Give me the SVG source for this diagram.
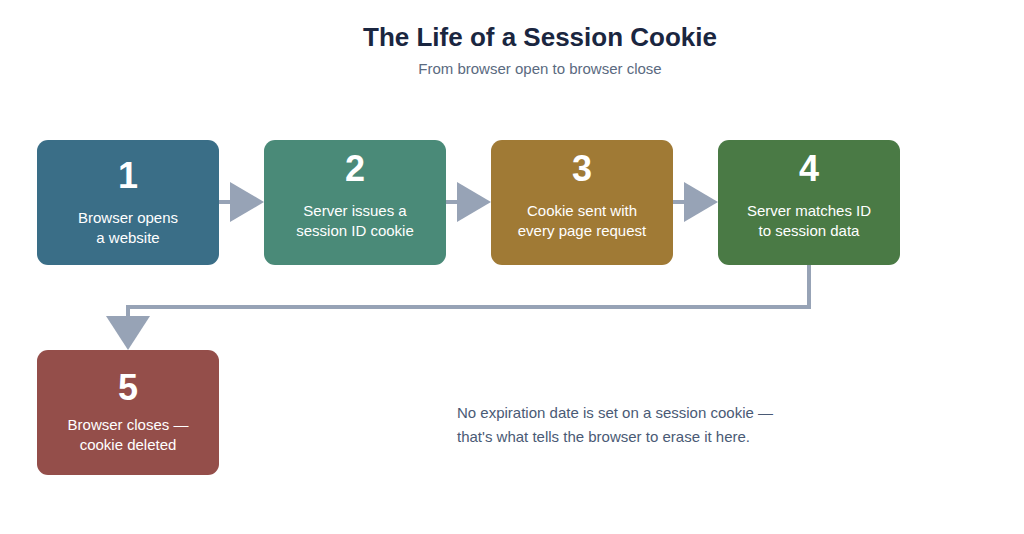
<svg xmlns="http://www.w3.org/2000/svg" width="1024" height="534" viewBox="0 0 1024 534">
<style>
text{font-family:"Liberation Sans",Arial,sans-serif}
.num{font-size:36px;font-weight:bold;fill:#fff;text-anchor:middle}
.lbl{font-size:15px;fill:#fff;text-anchor:middle}
.conn{stroke:#97a3b6;stroke-width:4;fill:none}
.head{fill:#97a3b6}
</style>
<rect width="1024" height="534" fill="#fff"/>
<text x="540" y="46" text-anchor="middle" font-size="26" font-weight="bold" fill="#1a2640">The Life of a Session Cookie</text>
<text x="540" y="74" text-anchor="middle" font-size="15" fill="#5a6a80">From browser open to browser close</text>
<g id="connectors">
<path class="conn" d="M219 202H234"/><polygon class="head" points="230,182 264,202 230,222"/>
<path class="conn" d="M446 202H461"/><polygon class="head" points="457,182 491,202 457,222"/>
<path class="conn" d="M673 202H688"/><polygon class="head" points="684,182 718,202 684,222"/>
<path class="conn" d="M809 265V307H128V320"/><polygon class="head" points="106,316 150,316 128,350"/>
</g>
<g id="node1"><rect x="37" y="140" width="182" height="125" rx="11" fill="#3a6e87"/><text class="num" x="128" y="188">1</text><text class="lbl" x="128" y="223">Browser opens</text><text class="lbl" x="128" y="243">a website</text></g>
<g id="node2"><rect x="264" y="140" width="182" height="125" rx="11" fill="#4a8a78"/><text class="num" x="355" y="181">2</text><text class="lbl" x="355" y="216">Server issues a</text><text class="lbl" x="355" y="236">session ID cookie</text></g>
<g id="node3"><rect x="491" y="140" width="182" height="125" rx="11" fill="#a07a35"/><text class="num" x="582" y="181">3</text><text class="lbl" x="582" y="216">Cookie sent with</text><text class="lbl" x="582" y="236">every page request</text></g>
<g id="node4"><rect x="718" y="140" width="182" height="125" rx="11" fill="#4a7a45"/><text class="num" x="809" y="181">4</text><text class="lbl" x="809" y="216">Server matches ID</text><text class="lbl" x="809" y="236">to session data</text></g>
<g id="node5"><rect x="37" y="350" width="182" height="125" rx="11" fill="#944e4a"/><text class="num" x="128" y="400">5</text><text class="lbl" x="128" y="430">Browser closes —</text><text class="lbl" x="128" y="450">cookie deleted</text></g>
<text x="457" y="418" font-size="15" fill="#4a5a75">No expiration date is set on a session cookie —</text>
<text x="457" y="442" font-size="15" fill="#4a5a75">that's what tells the browser to erase it here.</text>
</svg>
